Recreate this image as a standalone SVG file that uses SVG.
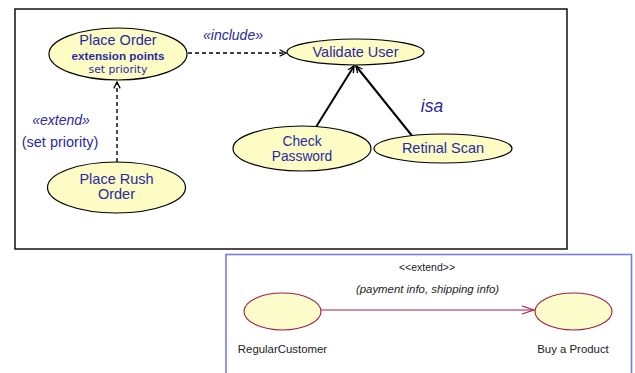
<svg xmlns="http://www.w3.org/2000/svg" width="635" height="373" viewBox="0 0 635 373">
  <style>
    .uc { fill: #fcfcc4; stroke: #000; stroke-width: 1.2; }
    .uc2 { fill: #fdfdcc; stroke: #a0204a; stroke-width: 1.1; }
    .lbl { font-family: "Liberation Sans", Arial, sans-serif; font-size: 14.5px; fill: #2a2aa0; text-anchor: middle; }
    .ext { font-family: "Liberation Sans", Arial, sans-serif; font-size: 11.7px; font-weight: bold; fill: #2a2aa0; text-anchor: middle; }
    .ep { font-family: "DejaVu Sans", sans-serif; font-size: 10.8px; fill: #2a2aa0; text-anchor: middle; }
    .ital { font-family: "Liberation Sans", Arial, sans-serif; font-style: italic; font-size: 14px; fill: #2a2aa0; text-anchor: middle; }
    .small { font-family: "Liberation Sans", Arial, sans-serif; font-size: 11.4px; fill: #222; text-anchor: middle; }
    .dash { fill: none; stroke: #000; stroke-width: 1.4; stroke-dasharray: 4 3; }
    .solid { fill: none; stroke: #000; stroke-width: 2; }
  </style>
  <defs>
    <marker id="open" viewBox="0 0 10 10" refX="9" refY="5" markerWidth="8" markerHeight="8" markerUnits="userSpaceOnUse" orient="auto">
      <path d="M1,1 L9,5 L1,9" fill="none" stroke="#000" stroke-width="1.6"/>
    </marker>
    <marker id="openRed" viewBox="0 0 14 10" refX="13" refY="5" markerWidth="14" markerHeight="10" markerUnits="userSpaceOnUse" orient="auto">
      <path d="M1,1 L13,5 L1,9" fill="none" stroke="#a0204a" stroke-width="1.1"/>
    </marker>
  </defs>

  <rect width="635" height="373" fill="#fff"/>

  <!-- upper frame -->
  <rect x="15" y="9" width="552" height="240" fill="none" stroke="#111" stroke-width="1.5"/>
  <!-- lower frame, open at the bottom of the canvas -->
  <rect x="226" y="254.5" width="405.5" height="130" fill="none" stroke="#7a7ae6" stroke-width="1.6"/>

  <g id="connectors">
    <path class="dash" d="M188,53 L286,53" marker-end="url(#open)"/>
    <path class="dash" d="M117,162 L117,82" marker-end="url(#open)"/>
    <path class="solid" d="M316,127 L354,66" marker-end="url(#open)"/>
    <path class="solid" d="M413,137 L356,66" marker-end="url(#open)"/>
    <path d="M321,310 L534,310" fill="none" stroke="#a0204a" stroke-width="1.1" marker-end="url(#openRed)"/>
    <text class="ital" x="233" y="40">«include»</text>
    <text class="ital" x="61" y="125">«extend»</text>
    <text class="lbl" x="60" y="147">(set priority)</text>
    <text class="ital" x="432" y="112" style="font-size:17.5px">isa</text>
    <text class="small" x="427" y="271" style="font-size:10.5px">&lt;&lt;extend&gt;&gt;</text>
    <text class="small" x="427.5" y="293" style="font-style:italic">(payment info, shipping info)</text>
  </g>

  <g id="place-order">
    <ellipse class="uc" cx="118" cy="54" rx="69" ry="26"/>
    <text class="lbl" x="118" y="45">Place Order</text>
    <text class="ext" x="118" y="60">extension points</text>
    <text class="ep" x="118" y="73">set priority</text>
  </g>

  <g id="validate-user">
    <ellipse class="uc" cx="355.5" cy="52" rx="68.5" ry="13"/>
    <text class="lbl" x="355.5" y="57">Validate User</text>
  </g>

  <g id="check-password">
    <ellipse class="uc" cx="302" cy="148.5" rx="69" ry="22.5"/>
    <text class="lbl" x="302" y="145.5" style="font-size:13.8px">Check</text>
    <text class="lbl" x="302" y="161" style="font-size:13.8px">Password</text>
  </g>

  <g id="retinal-scan">
    <ellipse class="uc" cx="443" cy="148.5" rx="69" ry="14.5"/>
    <text class="lbl" x="443" y="153">Retinal Scan</text>
  </g>

  <g id="place-rush-order">
    <ellipse class="uc" cx="116.5" cy="187.5" rx="69" ry="25.5"/>
    <text class="lbl" x="116.5" y="184">Place Rush</text>
    <text class="lbl" x="116.5" y="199">Order</text>
  </g>

  <g id="regular-customer">
    <ellipse class="uc2" cx="282.5" cy="311.5" rx="38.5" ry="18.5"/>
    <text class="small" x="282.5" y="353">RegularCustomer</text>
  </g>

  <g id="buy-a-product">
    <ellipse class="uc2" cx="573.5" cy="311.5" rx="38.5" ry="18.5"/>
    <text class="small" x="573" y="353">Buy a Product</text>
  </g>
</svg>
